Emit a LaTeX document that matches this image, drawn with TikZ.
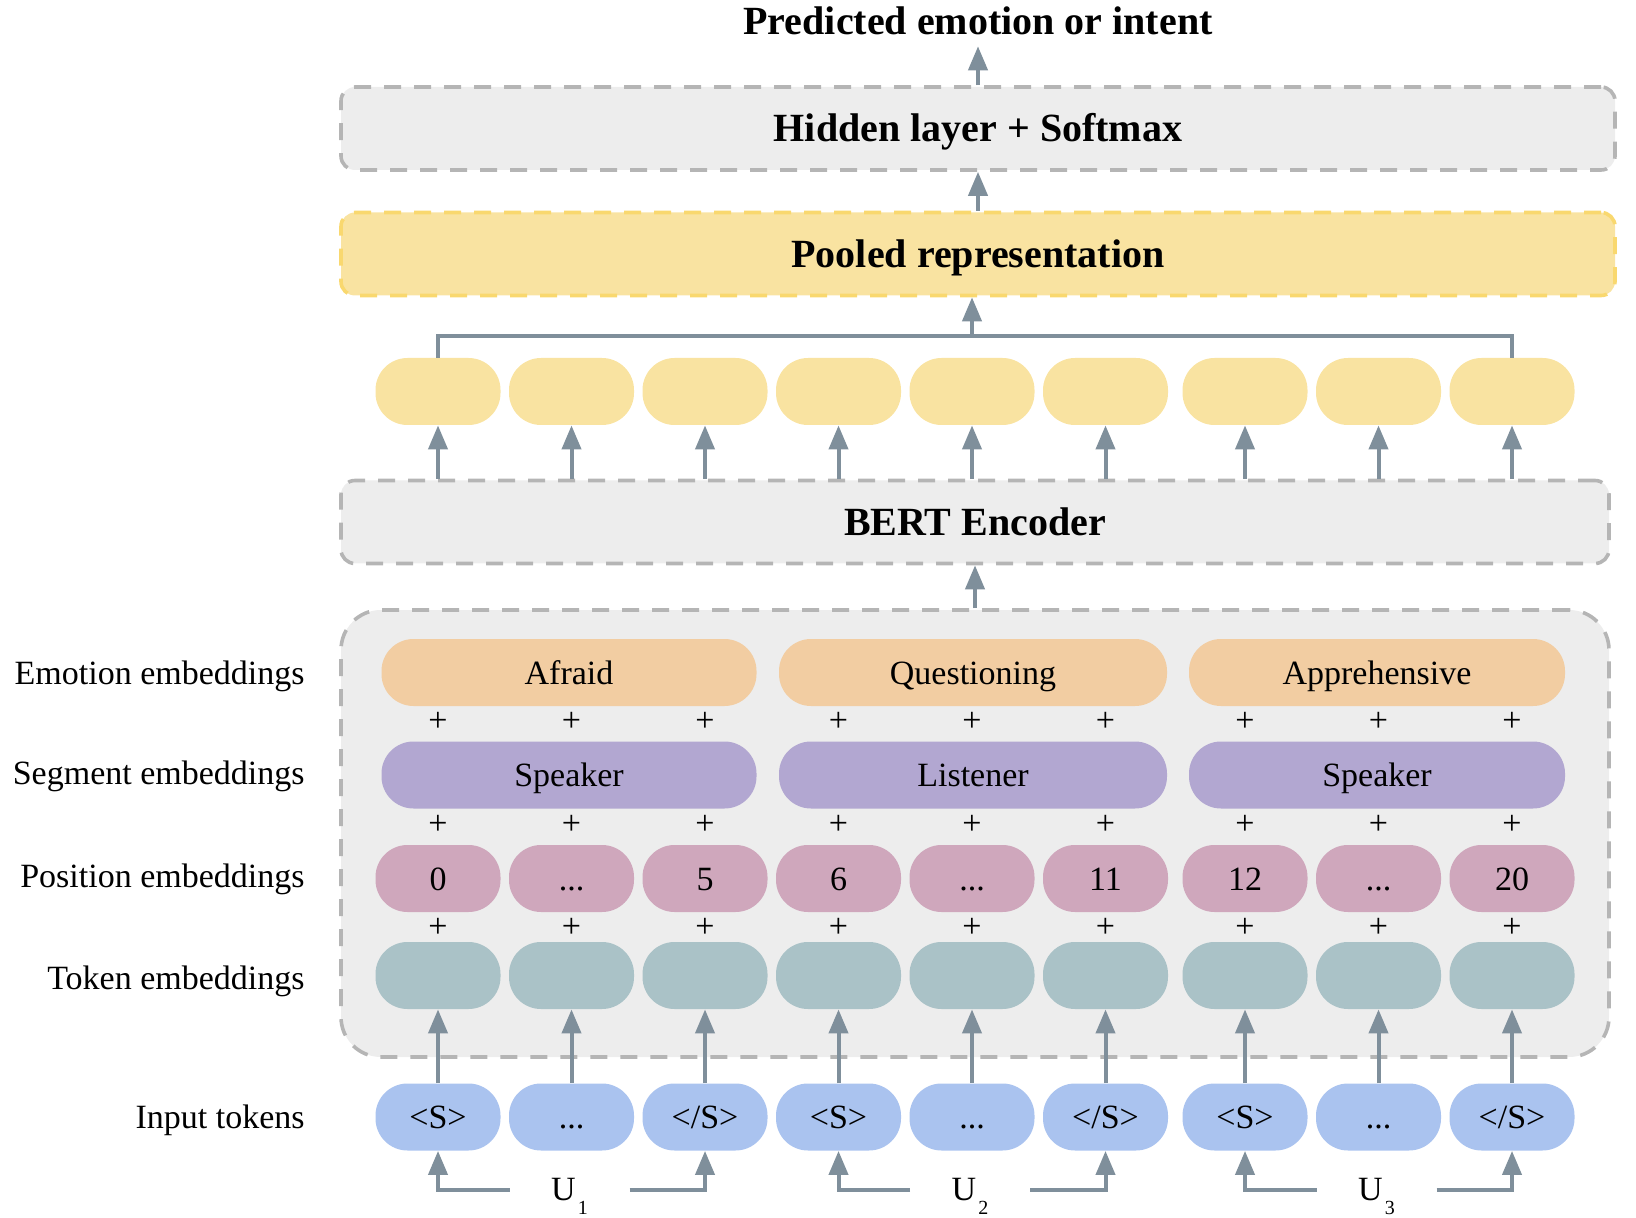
\documentclass[tikz,border=0pt]{standalone}
\usepackage{fontspec}
\setmainfont{Liberation Serif}
\usetikzlibrary{arrows.meta,positioning}

\definecolor{boxgray}{HTML}{EDEDED}
\definecolor{dashgray}{HTML}{B5B5B5}
\definecolor{poolfill}{HTML}{F9E3A1}
\definecolor{pooldash}{HTML}{F9D86F}
\definecolor{emofill}{HTML}{F2CDA2}
\definecolor{segfill}{HTML}{B2A7D1}
\definecolor{posfill}{HTML}{CFA7BC}
\definecolor{tokfill}{HTML}{AAC2C7}
\definecolor{inpfill}{HTML}{AAC3EF}
\definecolor{arrgray}{HTML}{7F8F9B}

\newcommand{\bostok}{<S>}
\newcommand{\eostok}{</S>}
\newcommand{\tokdots}{...}

\begin{document}
\begin{tikzpicture}[x=0.5pt,y=-0.5pt,
   every node/.style={font=\fontsize{17}{20}\selectfont},
   pill/.style={rounded corners=16pt,minimum width=62.5pt,minimum height=33.5pt,inner sep=0pt,
      text height=11.5pt,text depth=0pt},
   rowlabel/.style={anchor=east,inner sep=0pt,text height=11.5pt,text depth=0pt},
   widebox/.style={draw=dashgray,fill=boxgray,line width=1.8pt,dash pattern=on 8.5pt off 6.5pt,
      rounded corners=7pt,minimum height=41.5pt,inner sep=0pt,text height=13.3pt,text depth=0pt,
      font=\fontsize{20}{24}\selectfont\bfseries},
   arr/.style={draw=arrgray,line width=2pt,-{Triangle[length=12pt,width=9.5pt]}},
   link/.style={draw=arrgray,line width=2pt}]
\useasboundingbox (0,0) rectangle (1636,1218);

\node[font=\fontsize{20}{24}\selectfont\bfseries,anchor=base,inner sep=5.5pt] (pred) at (978,34.5) {Predicted emotion or intent};
\node[widebox,minimum width=637pt] (hidden) at (978,128.5) {Hidden layer + Softmax};
\node[widebox,minimum width=637pt,fill=poolfill,draw=pooldash] (pooled) at (978,254) {Pooled representation};
\node[widebox,minimum width=634pt] (bert) at (975,522) {BERT Encoder};
\node[widebox,minimum width=634pt,minimum height=223.5pt,rounded corners=20pt] (embbox) at (975,833.5) {};

\foreach \x [count=\i] in {438,571.5,705,838.5,972,1105.5,1245,1378.5,1512} {
  \node[pill,fill=poolfill] (out\i) at (\x,391.5) {};
  \node[pill,fill=tokfill] (tok\i) at (\x,975.5) {};
  \node (plusa\i) at (\x,721.5) {+};
  \node (plusb\i) at (\x,825) {+};
  \node (plusc\i) at (\x,928) {+};
  \draw[arr] (out\i.south |- bert.north) -- (out\i.south);
}

\foreach \x/\lbl [count=\i] in {438/0,571.5/\tokdots,705/5,838.5/6,972/\tokdots,1105.5/11,1245/12,1378.5/\tokdots,1512/20}
  \node[pill,fill=posfill] (pos\i) at (\x,878.5) {\lbl};

\foreach \x/\lbl [count=\i] in {438/\bostok,571.5/\tokdots,705/\eostok,838.5/\bostok,972/\tokdots,1105.5/\eostok,1245/\bostok,1378.5/\tokdots,1512/\eostok} {
  \node[pill,fill=inpfill] (in\i) at (\x,1117) {\lbl};
  \draw[arr] (in\i.north) -- (tok\i.south);
}

\node[pill,fill=emofill,minimum width=187.5pt] (emo1) at (569,672.5) {Afraid};
\node[pill,fill=emofill,minimum width=194pt] (emo2) at (973,672.5) {Questioning};
\node[pill,fill=emofill,minimum width=188pt] (emo3) at (1377,672.5) {Apprehensive};
\node[pill,fill=segfill,minimum width=187.5pt] (seg1) at (569,775) {Speaker};
\node[pill,fill=segfill,minimum width=194pt] (seg2) at (973,775) {Listener};
\node[pill,fill=segfill,minimum width=188pt] (seg3) at (1377,775) {Speaker};

\node[rowlabel] (lemo) at (305,673) {Emotion embeddings};
\node[rowlabel] (lseg) at (305,773) {Segment embeddings};
\node[rowlabel] (lpos) at (305,876) {Position embeddings};
\node[rowlabel] (ltok) at (305,978) {Token embeddings};
\node[rowlabel] (linp) at (305,1117) {Input tokens};

\foreach \m/\a/\b [count=\k] in {2/1/3,5/4/6,8/7/9} {
  \node[below=25pt of in\m.south,anchor=base,xshift=-1pt] (u\k) {U\kern1pt\raisebox{-7pt}{\fontsize{10}{10}\selectfont\k}};
  \coordinate (ul\k) at ([xshift=-30pt,yshift=5.3pt]u\k.base);
  \coordinate (ur\k) at ([xshift=30pt,yshift=5.3pt]u\k.base);
  \draw[arr] (ul\k) -| (in\a.south);
  \draw[arr] (ur\k) -| (in\b.south);
}

\coordinate (brk) at (972,336);
\draw[link] (out1.north) |- (brk) -| (out9.north);
\draw[arr] (brk) -- (brk |- pooled.south);
\draw[arr] (pooled.north) -- (hidden.south);
\draw[arr] (hidden.north) -- (pred.south);
\draw[arr] (embbox.north) -- (bert.south);
\end{tikzpicture}
\end{document}
